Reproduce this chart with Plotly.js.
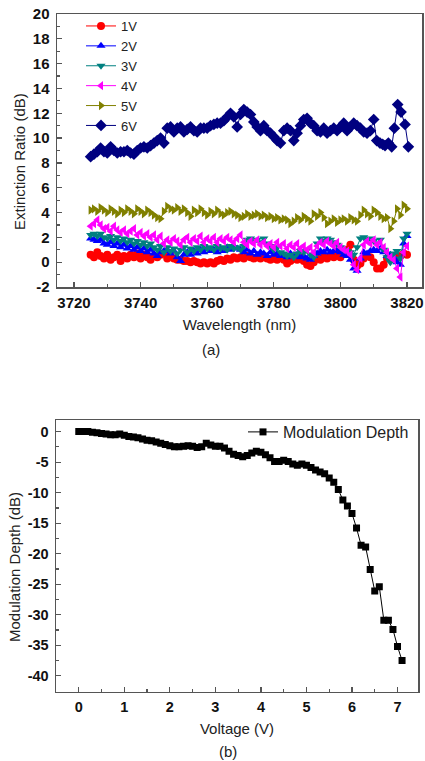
<!DOCTYPE html>
<html><head><meta charset="utf-8">
<script src="https://cdn.plot.ly/plotly-3.0.1.min.js"></script>
<style>html,body{margin:0;padding:0;background:#fff}#chart{width:425px;height:761px}</style>
</head><body><div id="chart"></div>
<script>
// ---------- Panel (a): extinction ratio vs wavelength ----------
const wavelength = [3725,3726,3727,3728,3729,3730,3731,3732,3733,3734,
3735,3736,3737,3738,3739,3740,3741,3742,3743,3744,
3745,3746,3747,3748,3749,3750,3751,3752,3753,3754,
3755,3756,3757,3758,3759,3760,3761,3762,3763,3764,
3765,3766,3767,3768,3769,3770,3771,3772,3773,3774,
3775,3776,3777,3778,3779,3780,3781,3782,3783,3784,
3785,3786,3787,3788,3789,3790,3791,3792,3793,3794,
3795,3796,3797,3798,3799,3800,3801,3802,3803,3804,
3805,3806,3807,3808,3809,3810,3811,3812,3813,3814,
3815,3816,3817,3818,3819,3820];

const er1V = [0.6,0.4,0.8,0.5,0.3,0.6,0.2,0.4,0.6,0.1,
0.5,0.3,0.6,0.4,0.7,0.3,0.6,0.4,0.2,0.5,
0.4,0.6,0.7,0.3,0.5,0.3,0.2,0.2,0.1,0.1,
0.0,0.1,0.0,-0.1,0.0,-0.1,0.0,-0.1,0.1,0.2,
0.1,0.3,0.2,0.4,0.3,0.4,0.3,0.5,0.4,0.3,
0.4,0.3,0.5,0.3,0.2,0.3,0.2,0.4,0.2,-0.1,
0.1,0.3,0.2,0.4,0.1,-0.2,-0.3,0.0,0.3,0.2,
0.4,0.3,0.5,0.4,0.6,0.4,0.7,1.0,1.4,0.2,
-0.3,-0.1,0.3,0.5,0.4,0.0,-0.5,-0.5,-0.2,0.3,
0.5,0.3,0.4,0.5,0.7,0.6];

const er2V = [1.9,1.8,1.7,1.8,1.5,1.4,1.6,1.3,1.5,1.2,
1.4,1.1,1.3,1.0,1.2,0.9,1.1,0.8,1.0,0.7,
0.5,0.8,0.9,1.0,0.7,0.9,0.4,0.1,0.6,0.8,
0.6,0.9,0.7,1.0,0.8,1.1,0.9,1.0,0.8,1.1,
0.9,1.2,1.0,1.3,1.1,1.0,0.8,1.0,0.7,0.9,
0.6,0.8,0.7,0.5,0.8,0.6,0.7,0.5,0.6,0.4,
0.7,0.5,0.6,0.4,0.5,0.3,0.2,0.5,0.7,0.9,
0.8,1.0,0.8,0.9,1.0,0.8,0.6,0.5,0.2,-0.5,
-0.7,0.3,0.8,0.7,0.9,1.0,0.9,1.1,0.8,0.5,
0.6,0.4,0.0,-0.2,1.5,2.1];

const er3V = [2.2,2.3,2.1,2.3,2.0,1.9,2.1,1.8,2.0,1.7,
1.9,1.6,1.8,1.5,1.7,1.4,1.6,1.3,1.5,1.2,
1.0,1.3,0.8,1.2,0.9,1.1,0.7,1.0,1.2,0.8,
1.1,0.9,1.2,1.0,1.3,1.1,1.2,1.0,1.3,1.1,
1.2,1.0,1.3,1.1,1.2,1.0,1.3,1.8,1.9,1.7,
1.8,1.6,1.9,1.5,1.3,1.0,1.2,0.8,0.7,0.5,
0.6,0.4,0.7,0.9,0.8,1.0,0.6,0.4,1.5,1.9,
1.7,1.9,1.8,1.6,1.4,1.2,1.0,0.9,0.8,0.6,
1.2,1.9,2.0,1.8,1.9,1.7,1.5,1.8,1.0,0.4,
0.0,0.7,0.9,0.3,1.9,2.3];

const er4V = [2.9,3.1,3.4,3.0,2.7,2.8,2.5,2.9,2.6,2.4,
2.6,2.3,2.5,2.7,2.2,2.4,2.1,2.3,2.0,2.2,
1.8,2.1,1.5,1.8,1.6,1.9,1.7,1.4,1.8,2.0,
1.6,1.9,1.7,2.1,1.6,1.9,1.7,2.0,1.6,1.9,
1.7,2.0,1.8,1.6,1.9,2.2,1.6,1.4,1.7,1.5,
1.8,1.4,1.6,1.3,1.5,1.2,1.6,1.3,1.5,1.1,
1.4,1.2,1.5,1.1,1.3,1.0,1.2,0.8,1.3,1.6,
1.4,1.7,1.5,1.3,1.6,1.2,1.0,0.9,0.6,-0.2,
-0.6,0.3,1.4,1.7,1.5,1.8,1.4,1.6,1.2,0.8,
0.4,0.2,-0.5,-1.2,0.8,1.3];

const er5V = [4.2,4.3,4.1,4.4,4.2,4.0,4.3,4.1,3.9,4.2,
4.0,4.3,4.1,3.9,4.3,4.1,3.9,4.2,4.0,3.8,
3.6,3.5,4.1,4.5,4.3,4.2,4.4,4.1,4.3,4.0,
3.7,4.2,4.0,4.3,4.0,3.8,4.1,3.9,4.2,3.9,
3.8,4.0,4.1,3.9,3.8,3.6,3.7,3.9,3.7,3.8,
3.9,3.7,3.8,3.6,3.7,3.5,3.6,3.4,3.5,3.4,
3.1,3.3,3.6,3.4,3.7,3.5,3.3,3.9,3.7,4.0,
3.6,3.1,3.3,3.5,3.2,3.4,3.5,3.3,3.6,3.4,
3.3,3.8,4.2,3.9,3.7,4.2,4.0,3.7,3.5,3.6,
2.7,3.3,4.3,3.8,4.6,4.3];

const wavelength6V = [3725,3726,3727,3728,3729,3730,3731,3732,3733,3734,
3735,3736,3737,3738,3739,3740,3741,3742,3743,3744,
3745,3746,3747,3748,3749,3750,3751,3752,3753,3754,
3755,3756,3757,3758,3759,3760,3761,3762,3763,3764,
3765,3766,3767,3768,3769,3770,3771,3772,3773,3774,
3775,3776,3777,3778,3779,3780,3781,3782,3783,3784,
3785,3786,3787,3788,3789,3790,3791,3792,3793,3794,
3795,3796,3797,3798,3799,3800,3801,3802,3803,3804,
3805,3806,3807,3808,3809,3810,
3810.9,3811.9,3812.7,3813.4,3814.4,3815.4,3816.2,3817.2,3818.2,3819.4,3820.4];

const er6V = [8.5,8.7,8.9,9.2,8.9,8.8,9.3,9.0,8.8,8.9,
8.9,9.0,8.8,8.7,9.0,9.2,9.3,9.2,9.4,9.6,
9.8,10.0,9.6,10.8,10.9,10.5,10.8,10.9,10.5,10.7,
10.9,10.6,10.5,10.8,10.8,10.8,11.0,11.1,11.2,11.2,
11.4,11.7,12.0,11.7,10.9,11.9,12.3,12.1,11.9,11.3,
10.9,10.6,11.0,10.6,10.4,10.1,9.8,9.6,10.6,10.8,
10.6,9.8,10.4,11.0,11.5,11.6,11.2,11.0,10.6,10.5,
10.8,10.4,10.6,10.8,10.6,10.9,11.2,10.6,10.9,11.2,
11.0,10.8,10.5,10.4,10.6,11.5,
9.8,9.6,9.5,9.4,9.6,9.3,10.8,12.7,12.1,11.1,9.3];

const seriesNames = ['1V','2V','3V','4V','5V','6V'];

const ticksWavelength = [3720,3740,3760,3780,3800,3820];
const ticksER = [-2,0,2,4,6,8,10,12,14,16,18,20];

// ---------- Panel (b): modulation depth vs voltage ----------
const voltage = [0.0,0.1,0.2,0.3,0.4,0.5,0.6,0.7,0.8,0.9,
1.0,1.1,1.2,1.3,1.4,1.5,1.6,1.7,1.8,1.9,
2.0,2.1,2.2,2.3,2.4,2.5,2.6,2.7,2.8,2.9,
3.0,3.1,3.2,3.3,3.4,3.5,3.6,3.7,3.8,3.9,
4.0,4.1,4.2,4.3,4.4,4.5,4.6,4.7,4.8,4.9,
5.0,5.1,5.2,5.3,5.4,5.5,5.6,5.7,5.8,5.9,
6.0,6.1,6.2,6.3,6.4,6.5,6.6,6.7,6.8,6.9,
7.0,7.1];

const modDepth = [0.0,0.0,0.0,-0.1,-0.2,-0.3,-0.4,-0.5,-0.5,-0.4,
-0.6,-0.8,-0.9,-1.0,-1.2,-1.4,-1.5,-1.7,-1.9,-2.1,
-2.3,-2.5,-2.5,-2.4,-2.3,-2.4,-2.6,-2.5,-1.9,-2.2,
-2.4,-2.4,-2.7,-3.2,-3.7,-3.9,-4.1,-3.9,-3.5,-3.2,
-3.4,-3.8,-4.3,-4.9,-4.9,-4.7,-4.9,-5.3,-5.5,-5.3,
-5.5,-5.9,-6.3,-6.6,-6.9,-7.6,-8.3,-9.5,-11.2,-12.2,
-13.4,-15.8,-18.6,-18.9,-22.6,-26.1,-25.4,-30.9,-30.9,-32.4,
-35.2,-37.5];

const modName = 'Modulation Depth';
const ticksVoltage = [0,1,2,3,4,5,6,7];
const ticksMD = [-40,-35,-30,-25,-20,-15,-10,-5,0];

// ---------- styles ----------
const colors = ['#ff0000','#0000ff','#008080','#ff00ff','#808000','#000080'];
const symbols = ['circle','triangle-up','triangle-down','triangle-left','triangle-right','diamond'];
const sizes = [8,8,8,8,8,9];
const xs = [wavelength,wavelength,wavelength,wavelength,wavelength,wavelength6V];
const ys = [er1V,er2V,er3V,er4V,er5V,er6V];

const traces = seriesNames.map((n,i)=>({
  type:'scatter', mode:'lines+markers', name:n,
  x: xs[i], y: ys[i], xaxis:'x', yaxis:'y', legend:'legend',
  line:{color:colors[i], width:1},
  marker:{color:colors[i], symbol:symbols[i], size:sizes[i], line:{width:0}}
}));
traces.push({
  type:'scatter', mode:'lines+markers', name:modName,
  x: voltage, y: modDepth, xaxis:'x2', yaxis:'y2', legend:'legend2',
  line:{color:'#000', width:1},
  marker:{color:'#000', symbol:'square', size:7, line:{width:0}}
});

const bold = v => '<b>' + String(v) + '</b>';
const W=425, H=761;
const FAM = 'Liberation Sans, Arial, sans-serif';
const tickFontA = {family:FAM, size:15, color:'#111', weight:'bold'};
const tickFontB = {family:FAM, size:14.5, color:'#111', weight:'bold'};
const titleFont = {family:FAM, size:15, color:'#222'};
const axisBase = {showline:true, mirror:true, linecolor:'#555', linewidth:1.5, ticks:'inside',
  ticklen:5, tickwidth:1.2, tickcolor:'#555', showgrid:false, zeroline:false,
  fixedrange:true, automargin:false, tickmode:'array'};

const layout = {
  width:W, height:H, margin:{l:0,r:0,t:0,b:0},
  paper_bgcolor:'#fff', plot_bgcolor:'#fff', showlegend:true,
  xaxis: Object.assign({}, axisBase, {domain:[57/W,422/W], range:[3714.9,3824.5], anchor:'y',
    tickvals:ticksWavelength, ticktext:ticksWavelength.map(bold), ticklabelstandoff:1, tickfont:tickFontA,
    minor:{ticks:'inside', ticklen:3, tickcolor:'#555', dtick:10, tick0:3720, showgrid:false},
    title:{text:'Wavelength (nm)', font:titleFont, standoff:10}}),
  yaxis: Object.assign({}, axisBase, {domain:[1-287/H, 1-14/H], range:[-2,20], anchor:'x',
    tickvals:ticksER, ticktext:ticksER.map(bold), ticklabelstandoff:3, tickfont:tickFontA,
    minor:{ticks:'inside', ticklen:3, tickcolor:'#555', dtick:1, tick0:0, showgrid:false}}),
  xaxis2: Object.assign({}, axisBase, {domain:[56/W,418/W], range:[-0.5,7.45], anchor:'y2',
    tickvals:ticksVoltage, ticktext:ticksVoltage.map(bold), ticklabelstandoff:1, tickfont:tickFontB,
    minor:{ticks:'inside', ticklen:3, tickcolor:'#555', dtick:0.5, tick0:0, showgrid:false},
    title:{text:'Voltage (V)', font:titleFont, standoff:10}}),
  yaxis2: Object.assign({}, axisBase, {domain:[1-691.7/H, 1-420/H], range:[-42.6,1.9], anchor:'x2',
    tickvals:ticksMD, ticktext:ticksMD.map(bold), ticklabelstandoff:3, tickfont:tickFontB,
    minor:{ticks:'inside', ticklen:3, tickcolor:'#555', dtick:2.5, tick0:0, showgrid:false}}),
  legend:{x:81/W, y:1-11/H, xanchor:'left', yanchor:'top', bgcolor:'rgba(0,0,0,0)',
    font:{family:FAM, size:13, color:'#222'}, tracegroupgap:0, itemwidth:30},
  legend2:{x:414/W, y:1-415/H, xanchor:'right', yanchor:'top', bgcolor:'rgba(0,0,0,0)',
    font:{family:FAM, size:16, color:'#222'}},
  annotations:[
    {text:'Extinction Ratio (dB)', xref:'paper', yref:'paper', x:19/W, y:1-162/H, textangle:-90,
      showarrow:false, font:titleFont, xanchor:'center', yanchor:'middle'},
    {text:'Modulation Depth (dB)', xref:'paper', yref:'paper', x:14/W, y:1-567/H, textangle:-90,
      showarrow:false, font:titleFont, xanchor:'center', yanchor:'middle'},
    {text:'(a)', xref:'paper', yref:'paper', x:211/W, y:1-350/H, showarrow:false,
      font:titleFont, xanchor:'center', yanchor:'middle'},
    {text:'(b)', xref:'paper', yref:'paper', x:228/W, y:1-751/H, showarrow:false,
      font:titleFont, xanchor:'center', yanchor:'middle'}
  ]
};

Plotly.newPlot('chart', traces, layout, {displayModeBar:false, staticPlot:true});
</script></body></html>
